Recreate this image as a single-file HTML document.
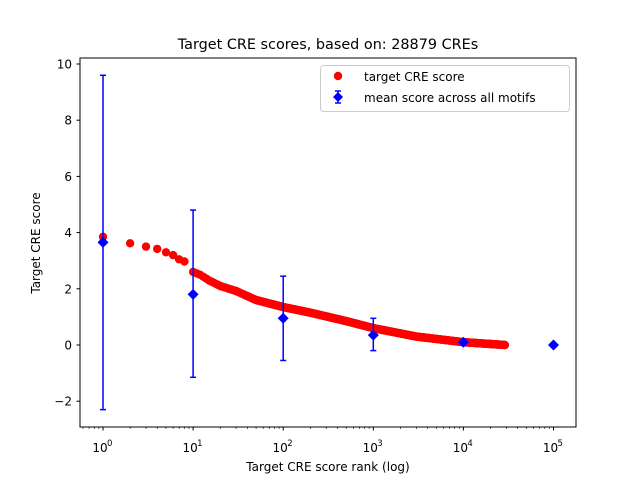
<!DOCTYPE html>
<html><head><meta charset="utf-8"><style>
body{margin:0;background:#fff}
svg{display:block}
text{font-family:"DejaVu Sans","Liberation Sans",sans-serif;fill:#000}
</style></head><body>
<svg id="s" width="640" height="480" xmlns="http://www.w3.org/2000/svg">
<rect width="640" height="480" fill="#fff"/>
<text x="328" y="49" font-size="14.4" text-anchor="middle">Target CRE scores, based on: 28879 CREs</text>
<text x="328" y="471" font-size="12" text-anchor="middle">Target CRE score rank (log)</text>
<text transform="translate(40,243) rotate(-90)" font-size="12" text-anchor="middle">Target CRE score</text>
<g id="dots"></g>
<g id="err"></g>
<rect x="80" y="58" width="496" height="369" fill="none" stroke="#000" stroke-width="1"/>
<g id="ticks"></g>
<rect x="320.5" y="65.5" width="249" height="46" rx="3" fill="#fff" fill-opacity="0.8" stroke="#ccc"/>
<circle cx="338" cy="76" r="4.2" fill="#f00"/>
<text x="364" y="81" font-size="12">target CRE score</text>
<line x1="338" y1="91" x2="338" y2="103" stroke="#00f" stroke-width="1.5"/>
<line x1="335" y1="91" x2="341" y2="91" stroke="#00f" stroke-width="1.5"/>
<line x1="335" y1="103" x2="341" y2="103" stroke="#00f" stroke-width="1.5"/>
<path d="M338 92 L343 97 L338 102 L333 97Z" fill="#00f"/>
<text x="364" y="102" font-size="12">mean score across all motifs</text>
</svg>
<script>
const NS="http://www.w3.org/2000/svg";
const X=r=>103+90.1*Math.log10(r), Y=v=>345-28.1*v;
function el(p,t,a,txt){const e=document.createElementNS(NS,t);for(const k in a)e.setAttribute(k,a[k]);if(txt!==undefined)e.textContent=txt;document.getElementById(p).appendChild(e);}
const A=[[1,3.85],[2,3.62],[3,3.5],[4,3.42],[5,3.3],[6,3.2],[7,3.05],[8,2.97],[10,2.6],[12,2.5],[15,2.3],[20,2.1],[30,1.92],[50,1.6],[100,1.35],[200,1.15],[500,0.85],[1000,0.6],[3000,0.3],[10000,0.1],[28879,0.0]];
function sc(r){const l=Math.log10(r);for(let i=0;i<A.length-1;i++){const a=Math.log10(A[i][0]),b=Math.log10(A[i+1][0]);if(l<=b){const t=(l-a)/(b-a);return A[i][1]+t*(A[i+1][1]-A[i][1]);}}return 0;}
const rs=[];for(let r=1;r<=100;r++)rs.push(r);for(let i=0;i<=500;i++)rs.push(100*Math.pow(288.79,i/500));
rs.forEach(r=>{if(r===9)return;el("dots","circle",{cx:X(r).toFixed(1),cy:Y(sc(r)).toFixed(1),r:4.2,fill:"#f00"});});
const E=[[1,3.65,-2.3,9.6],[10,1.8,-1.15,4.8],[100,0.95,-0.55,2.45],[1000,0.35,-0.2,0.95],[10000,0.1,0.02,0.18],[100000,0,0,0]];
E.forEach(([r,m,lo,hi])=>{const x=X(r);el("err","line",{x1:x,x2:x,y1:Y(lo),y2:Y(hi),stroke:"#00f","stroke-width":1.5});
[lo,hi].forEach(v=>el("err","line",{x1:x-3,x2:x+3,y1:Y(v),y2:Y(v),stroke:"#00f","stroke-width":1.5}));
const y=Y(m);el("err","path",{d:`M${x} ${y-5.5}L${x+5.5} ${y}L${x} ${y+5.5}L${x-5.5} ${y}Z`,fill:"#00f"});});
for(let d=0;d<=5;d++){const x=X(Math.pow(10,d));el("ticks","line",{x1:x,x2:x,y1:427,y2:430.5,stroke:"#000"});
el("ticks","text",{x:x-3,y:452,"font-size":12,"text-anchor":"middle"},"10");el("ticks","text",{x:x+4,y:446,"font-size":8.5},String(d));
if(d<5)for(let k=2;k<10;k++){const xm=X(k*Math.pow(10,d));el("ticks","line",{x1:xm,x2:xm,y1:427,y2:429,stroke:"#000","stroke-width":0.6});}}
for(let k=2;k<10;k++){const xm=X(k*0.1);if(xm>80)el("ticks","line",{x1:xm,x2:xm,y1:427,y2:429,stroke:"#000","stroke-width":0.6});}
for(let v=-2;v<=10;v+=2){const y=Y(v);el("ticks","line",{x1:76.5,x2:80,y1:y,y2:y,stroke:"#000"});el("ticks","text",{x:72,y:y+4.5,"font-size":12,"text-anchor":"end"},v<0?"\u2212"+(-v):String(v));}
</script>
</body></html>
